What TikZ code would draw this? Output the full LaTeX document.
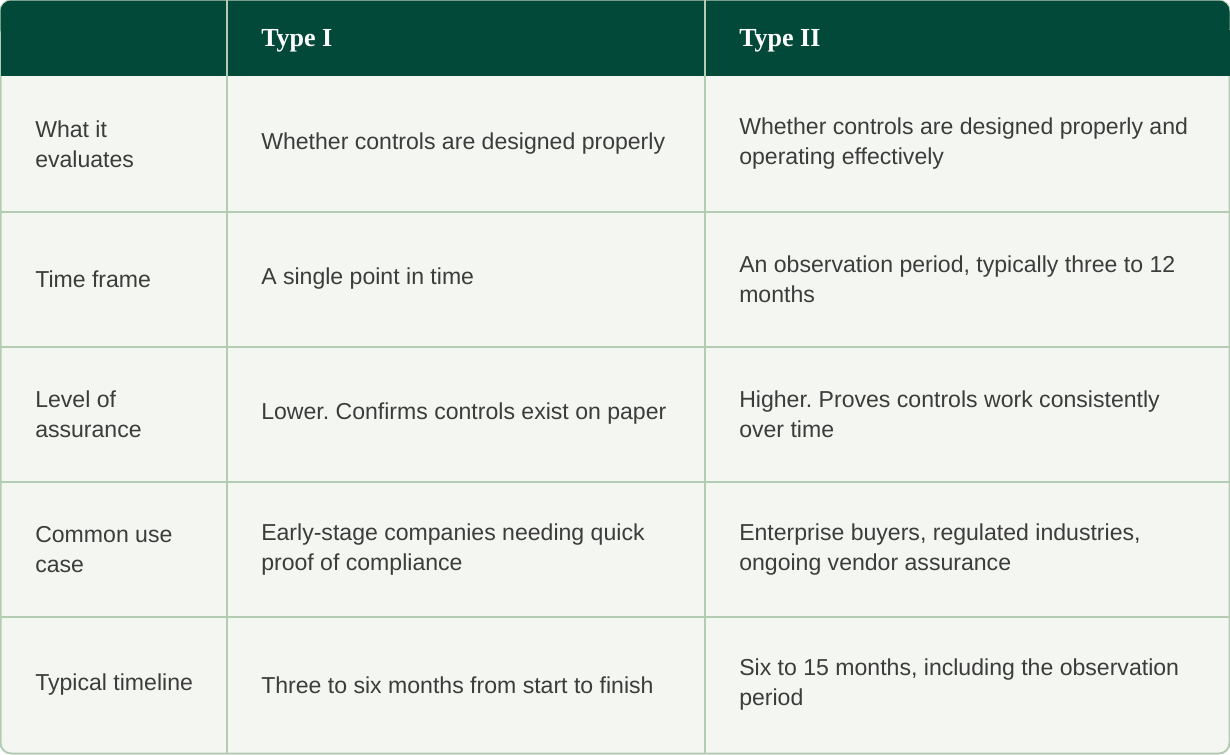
\documentclass[tikz,border=0pt]{standalone}
\usepackage{fontspec}
\setmainfont{Liberation Sans}
\newfontfamily\headfont{Liberation Serif}
\definecolor{hdr}{HTML}{03493A}
\definecolor{bg}{HTML}{F4F6F2}
\definecolor{grid}{HTML}{B4CBB4}
\definecolor{txt}{HTML}{3C3C3C}
\frenchspacing
\begin{document}
\begin{tikzpicture}[x=0.75pt,y=-0.75pt,
  cell/.style={anchor=west,align=left,inner sep=0pt,text=txt,font=\fontsize{17.3}{22.5}\selectfont},
  head/.style={anchor=west,inner sep=0pt,text=white,font=\headfont\bfseries\fontsize{19.5}{22}\selectfont}]
\useasboundingbox (0,0) rectangle (1230,754);
\fill[bg,rounded corners=8] (0.5,0.5) rectangle (1229.5,753.5);
\draw[grid,line width=1.5pt,rounded corners=8] (0.5,0.5) rectangle (1229.5,753.5);
\fill[hdr,rounded corners=8] (0.5,0.5) rectangle (1229.5,40);
\fill[hdr] (0.5,30) rectangle (1229.5,76);
\foreach \y in {212,347,482,617} \draw[grid,line width=1.2pt] (0,\y) -- (1230,\y);
\draw[grid,line width=1.2pt] (227,0) -- (227,754);
\draw[grid,line width=1.2pt] (705,0) -- (705,754);
\node[head] (h1) at (261,41) {Type I};
\node[head] (h2) at (739,41) {Type II};
\node[cell] (a0) at (35,144) {What it\\evaluates};
\node[cell] (a1) at (261,144) {Whether controls are designed properly};
\node[cell] (a2) at (739,144) {Whether controls are designed properly and\\operating effectively};
\node[cell] (b0) at (35,279) {Time frame};
\node[cell] (b1) at (261,279) {A single point in time};
\node[cell] (b2) at (739,279) {An observation period, typically three to 12\\months};
\node[cell] (c0) at (35,414) {Level of\\assurance};
\node[cell] (c1) at (261,414) {Lower. Confirms controls exist on paper};
\node[cell] (c2) at (739,414) {Higher. Proves controls work consistently\\over time};
\node[cell] (d0) at (35,550) {Common use\\case};
\node[cell] (d1) at (261,550) {Early-stage companies needing quick\\proof of compliance};
\node[cell] (d2) at (739,550) {Enterprise buyers, regulated industries,\\ongoing vendor assurance};
\node[cell] (e0) at (35,685) {Typical timeline};
\node[cell] (e1) at (261,685) {Three to six months from start to finish};
\node[cell] (e2) at (739,685) {Six to 15 months, including the observation\\period};
\end{tikzpicture}
\end{document}
